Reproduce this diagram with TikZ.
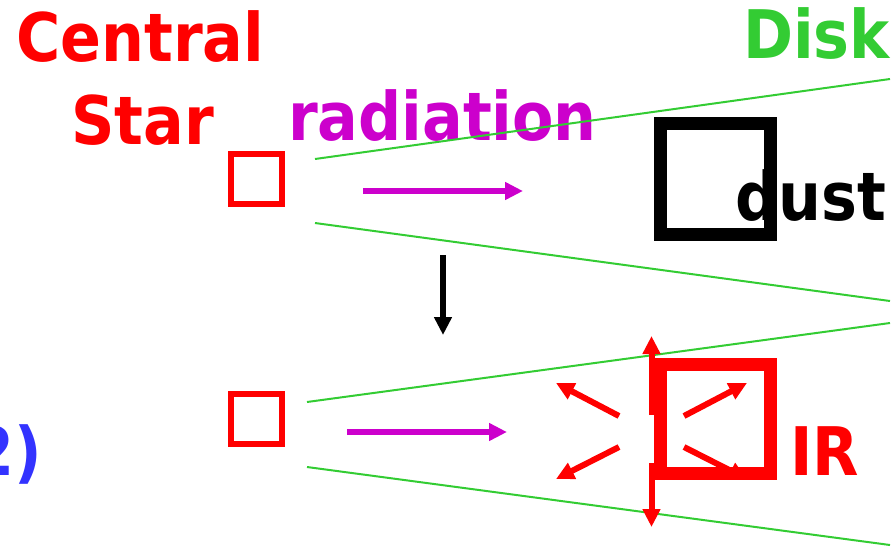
\documentclass[tikz,border=0pt]{standalone}
\usepackage{fontspec}
\setmainfont{DejaVu Sans Condensed}
\usetikzlibrary{arrows.meta}
\definecolor{cred}{RGB}{255,0,0}
\definecolor{cmag}{RGB}{204,0,204}
\definecolor{cgreen}{RGB}{51,204,51}
\definecolor{cblue}{RGB}{51,51,255}
\tikzset{
  lbl/.style={anchor=base west,inner sep=0pt,font=\fontsize{67}{70}\selectfont\bfseries},
  disk/.style={draw=cgreen,line width=2pt},
  star/.style={draw=cred,line width=6pt,line join=miter},
  grain/.style={line width=13pt,line join=miter},
  ray/.style={line width=6pt,-{Triangle[length=18pt,width=17pt]}},
}
\begin{document}
\begin{tikzpicture}[x=1pt,y=-1pt]
\useasboundingbox (0,0) rectangle (896,547);
\clip (0,0) rectangle (896,547);
% labels
\node[lbl,text=cred] (central) at (16,61) {Central};
\node[lbl,text=cred] (star) at (71,144) {Star};
\node[lbl,text=cmag] (radiation) at (288,140) {radiation};
\node[lbl,text=cgreen] (disk) at (743,58) {Disk};
\node[lbl,text=cblue,anchor=base east] (two) at (42,475) {2)};
% top panel
\draw[disk] (315,159) coordinate (d1a) -- (890,79) coordinate (d1b);
\draw[disk] (315,223) coordinate (d2a) -- (890,301) coordinate (d2b);
\draw[star] (231,154) rectangle (282,204);
\coordinate (r1a) at (363,191); \coordinate (r1b) at (523,191);
\draw[ray,cmag] (r1a) -- (r1b);
\draw[grain,black] (660.5,123.5) rectangle (770.5,234.5);
\node[lbl,text=black] (dust) at (735,220) {dust};
% step arrow
\coordinate (s1) at (443,255); \coordinate (s2) at (443,335);
\draw[ray,black] (s1) -- (s2);
% bottom panel
\draw[disk] (307,402) coordinate (d3a) -- (890,323) coordinate (d3b);
\draw[disk] (307,467) coordinate (d4a) -- (890,545) coordinate (d4b);
\draw[star] (231,394) rectangle (282,444);
\coordinate (r2a) at (347,432); \coordinate (r2b) at (507,432);
\draw[ray,cmag] (r2a) -- (r2b);
% IR emission arrows
\coordinate (e0) at (619,416); \coordinate (e1) at (556,383);
\coordinate (e2) at (619,447); \coordinate (e3) at (556,479);
\coordinate (e4) at (684,416); \coordinate (e5) at (747,383);
\coordinate (e6) at (684,447); \coordinate (e7) at (747,479);
\coordinate (v0) at (651.5,415); \coordinate (v1) at (651.5,336);
\coordinate (v2) at (651.5,463); \coordinate (v3) at (651.5,527);
\draw[ray,cred] (e0) -- (e1);
\draw[ray,cred] (e2) -- (e3);
\draw[ray,cred] (e4) -- (e5);
\draw[ray,cred] (e6) -- (e7);
\draw[ray,cred] (v0) -- (v1);
\draw[ray,cred] (v2) -- (v3);
\draw[grain,cred] (660.5,364.5) rectangle (770.5,473.5);
\node[lbl,text=cred] (ir) at (790,475) {IR};
\end{tikzpicture}
\end{document}
